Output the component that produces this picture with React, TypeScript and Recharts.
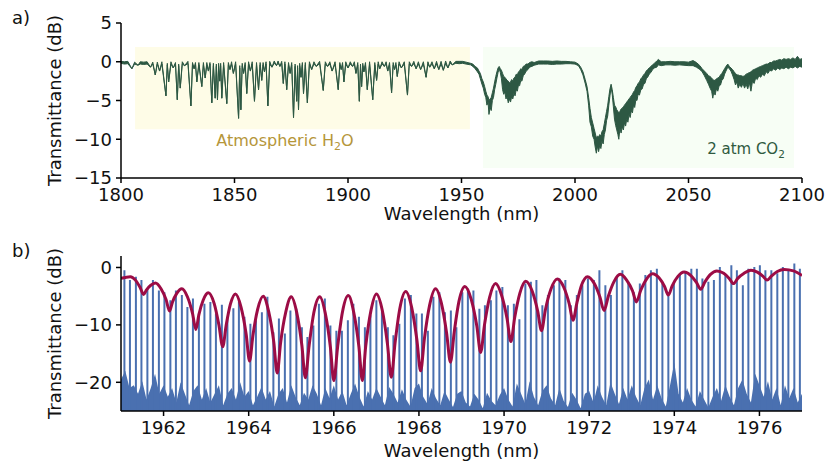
import { ComposedChart, Area, Line, XAxis, YAxis, ReferenceArea } from 'recharts'

const FONT = '"DejaVu Sans", Verdana, sans-serif'

// ---- panel a: broadband transmission, [wavelength, low, high] (dB)
const traceA: [number, number, number][] = [
  [1800, -0.2, 0.05], [1801.5, -0.3, 0], [1803, -0.25, 0.05], [1804.8, -0.9, -0.9], [1806, -0.3, -0.05],
  [1807.5, -0.45, -0.45], [1808.5, -0.3, 0], [1810, -0.35, -0.05], [1811.5, -0.3, 0], [1813, -0.7, -0.7],
  [1814, -0.3, -0.05], [1815.1, -1.7, -1.7], [1816, -0.3, -0.05], [1817, -1.2, -1.2], [1818, -0.3, 0],
  [1819.8, -4.4, -4.4], [1820.4, -0.4, -0.2], [1821, -2.6, -2.6], [1822, -0.3, 0], [1823, -0.8, -0.8],
  [1824, -0.3, -0.1], [1824.8, -4.9, -4.9], [1825.4, -0.5, -0.3], [1826.1, -3.4, -3.4], [1827, -0.3, 0],
  [1828, -0.5, -0.5], [1829.5, -0.25, 0.05], [1830.8, -5.7, -5.7], [1831.5, -0.3, -0.1], [1832.2, -0.9, -0.9],
  [1832.8, -0.3, -0.1], [1833.4, -2.6, -2.6], [1834.3, -0.4, -0.1], [1835.6, -3.2, -3.2], [1836.3, -0.4, -0.1],
  [1837.1, -2.1, -2.1], [1837.8, -0.4, -0.1], [1838.5, -1.2, -1.2], [1839.2, -0.3, -0.1], [1840, -5.3, -5.3],
  [1840.7, -0.5, -0.2], [1841.5, -4.7, -4.7], [1842, -0.6, -0.3], [1842.5, -4.9, -4.9], [1843, -0.5, -0.2],
  [1843.5, -2.5, -2.5], [1843.9, -0.5, -0.2], [1844.4, -4.7, -4.7], [1845.2, -0.4, -0.1], [1846.6, -5.4, -5.4],
  [1847.3, -0.4, -0.1], [1848, -1.0, -1.0], [1848.7, -0.3, 0], [1849.5, -1.5, -1.5], [1850.5, -0.3, 0],
  [1851.8, -7.3, -7.3], [1852.3, -0.8, -0.5], [1852.8, -6.2, -6.2], [1853.4, -0.5, -0.2], [1854, -1.5, -1.5],
  [1854.7, -0.4, -0.1], [1855.4, -4.1, -4.1], [1856.2, -0.3, 0], [1857, -1.2, -1.2], [1857.8, -0.3, 0],
  [1858.8, -5.1, -5.1], [1859.7, -0.4, -0.1], [1860.6, -3.6, -3.6], [1861.3, -0.4, -0.1], [1862, -2.4, -2.4],
  [1862.6, -0.4, -0.1], [1863.2, -1.3, -1.3], [1863.9, -0.3, 0], [1864.7, -5.7, -5.7], [1865.5, -0.3, 0.05],
  [1866.5, -0.7, -0.7], [1867.5, -0.2, 0.1], [1868.5, -0.5, -0.5], [1869.2, -0.15, 0.1], [1870, -0.6, -0.6],
  [1870.8, -0.2, 0.05], [1871.5, -2.8, -2.8], [1872.2, -0.3, 0], [1873, -3.6, -3.6], [1873.8, -0.4, -0.1],
  [1874.5, -1.5, -1.5], [1875.2, -0.4, -0.1], [1876, -7.2, -7.2], [1876.7, -0.6, -0.3], [1877.4, -5.1, -5.1],
  [1877.8, -0.8, -0.5], [1878.2, -6.2, -6.2], [1878.7, -0.5, -0.2], [1879.3, -2.0, -2.0], [1879.9, -0.4, -0.1],
  [1880.4, -4.1, -4.1], [1881.2, -0.4, -0.1], [1882.1, -5.3, -5.3], [1883, -0.3, 0], [1884, -1.0, -1.0],
  [1885, -0.3, 0], [1886, -0.6, -0.6], [1887.5, -0.25, 0.05], [1889.1, -3.7, -3.7], [1890, -0.3, 0],
  [1891, -0.6, -0.6], [1892, -0.3, 0], [1893, -1.2, -1.2], [1894.3, -0.3, 0], [1895.7, -3.6, -3.6],
  [1896.4, -0.4, -0.1], [1897, -1.0, -1.0], [1897.6, -0.4, -0.1], [1898.2, -2.6, -2.6], [1899, -0.3, 0],
  [1900, -0.8, -0.8], [1901, -0.3, 0], [1902, -0.6, -0.6], [1902.8, -0.3, 0], [1903.5, -1.5, -1.5],
  [1904.3, -0.4, -0.1], [1905, -5.1, -5.1], [1905.5, -0.6, -0.3], [1906, -3.2, -3.2], [1906.5, -0.5, -0.2],
  [1907, -1.3, -1.3], [1907.7, -0.4, -0.1], [1908.5, -3.6, -3.6], [1909.5, -0.3, 0], [1910.9, -4.9, -4.9],
  [1911.8, -0.4, -0.1], [1912.6, -2.4, -2.4], [1913.3, -0.3, 0], [1914, -0.9, -0.9], [1915, -0.3, 0],
  [1916, -0.6, -0.6], [1916.8, -0.3, 0], [1917.5, -1.2, -1.2], [1918.3, -0.4, -0.1], [1919.2, -4.0, -4.0],
  [1919.9, -0.4, -0.1], [1920.5, -1.0, -1.0], [1921.1, -0.4, -0.1], [1921.7, -1.9, -1.9], [1922.5, -0.3, 0],
  [1923.5, -0.8, -0.8], [1924.8, -0.3, 0], [1926.2, -4.3, -4.3], [1927, -0.3, 0], [1928, -0.6, -0.6],
  [1929, -0.25, 0.05], [1930, -0.9, -0.9], [1931, -0.3, 0], [1932, -1.0, -1.0], [1933.2, -0.3, 0],
  [1934.4, -2.0, -2.0], [1935.2, -0.3, 0], [1936, -0.7, -0.7], [1937, -0.3, 0], [1938, -0.9, -0.9],
  [1939, -0.3, 0.05], [1940, -1.0, -1.0], [1941, -0.3, 0.05], [1942, -1.1, -1.1], [1943, -0.25, 0.1],
  [1944, -0.8, -0.8], [1945, -0.2, 0.1], [1946, -0.4, -0.4], [1947.5, -0.2, 0.05], [1949, -0.25, 0.05],
  [1950.5, -0.2, 0.05], [1952, -0.3, -0.05],
  // CO2 band around 1960-1980
  [1954, -0.4, -0.2], [1955, -0.6, -0.3], [1956, -0.9, -0.6], [1957, -1.3, -0.8], [1957.7, -1.6, -1.2],
  [1958.3, -2.2, -1.5], [1959, -2.9, -2.2], [1959.6, -3.4, -2.6], [1960.2, -4.2, -3.2], [1960.7, -4.6, -3.8],
  [1961.2, -5.6, -4.3], [1961.7, -5.2, -4.5], [1962.1, -6.8, -5.0], [1962.6, -5.9, -4.8], [1963.1, -6.3, -4.6],
  [1963.6, -5.0, -4.0], [1964.1, -4.6, -3.4], [1964.6, -3.6, -2.6], [1965.1, -2.9, -1.9], [1965.6, -2.1, -1.3],
  [1966.1, -1.4, -0.8], [1966.6, -0.9, -0.6], [1967.1, -1.4, -0.9], [1967.6, -2.2, -1.1], [1968.1, -3.6, -1.5],
  [1968.6, -4.2, -1.9], [1969.1, -3.9, -2.0], [1969.6, -4.8, -2.2], [1970.1, -4.5, -2.4], [1970.6, -5.3, -2.5],
  [1971.1, -4.8, -2.7], [1971.6, -5.2, -2.6], [1972.1, -4.5, -2.3], [1972.6, -4.8, -2.5], [1973.1, -4.1, -2.1],
  [1973.6, -4.4, -2.0], [1974.1, -3.6, -1.6], [1974.6, -3.8, -1.7], [1975.1, -3.0, -1.3], [1975.6, -3.1, -1.2],
  [1976.1, -2.4, -0.9], [1976.6, -2.5, -1.0], [1977.2, -1.8, -0.6], [1977.8, -1.6, -0.5], [1978.5, -1.2, -0.3],
  [1979.3, -1.0, -0.3], [1980, -0.7, -0.1], [1981, -0.6, 0], [1982, -0.45, -0.1], [1984, -0.3, 0.1],
  [1986, -0.3, 0.1], [1988, -0.3, 0.1], [1990, -0.35, 0.05], [1992, -0.3, 0.1], [1994, -0.3, 0.05],
  [1996, -0.25, 0.05], [1998, -0.25, 0],
  // CO2 band around 2010
  [2000, -0.3, -0.05], [2001.5, -0.5, -0.3], [2002.5, -1.0, -0.7], [2003.5, -1.7, -1.3], [2004.5, -2.8, -2.3],
  [2005.3, -3.8, -3.2], [2006, -5.6, -4.6], [2006.6, -7.8, -6.0], [2007.2, -8.4, -7.2], [2007.8, -9.6, -7.9],
  [2008.4, -10.0, -8.6], [2008.9, -11.0, -9.2], [2009.4, -11.8, -9.8], [2009.9, -10.9, -9.6], [2010.4, -11.6, -9.7],
  [2010.9, -10.8, -9.4], [2011.4, -11.2, -9.6], [2011.9, -10.2, -9.0], [2012.4, -10.6, -8.8], [2012.9, -9.4, -8.0],
  [2013.4, -8.8, -7.2], [2013.9, -7.6, -6.4], [2014.4, -7.0, -5.6], [2014.9, -5.6, -4.5], [2015.4, -4.4, -3.5],
  [2015.9, -3.3, -2.9], [2016.4, -4.2, -3.6], [2016.9, -5.8, -4.6], [2017.4, -7.4, -5.6], [2017.9, -8.2, -5.8],
  [2018.4, -8.8, -6.2], [2018.9, -9.4, -6.4], [2019.3, -10.0, -6.6], [2019.8, -8.6, -6.4], [2020.3, -9.2, -6.1],
  [2020.8, -8.4, -6.0], [2021.3, -8.8, -5.8], [2021.8, -7.9, -5.6], [2022.3, -8.3, -5.4], [2022.8, -7.4, -5.2],
  [2023.3, -7.8, -5.0], [2023.8, -6.8, -4.8], [2024.3, -7.2, -4.6], [2024.8, -6.3, -4.4], [2025.3, -6.6, -4.2],
  [2025.8, -5.6, -3.9], [2026.3, -5.9, -3.7], [2026.8, -4.9, -3.3], [2027.3, -5.0, -3.1], [2027.8, -4.2, -2.8],
  [2028.4, -4.3, -2.6], [2029, -3.6, -2.2], [2029.6, -3.5, -2.0], [2030.2, -2.9, -1.7], [2030.8, -2.8, -1.5],
  [2031.4, -2.2, -1.2], [2032, -2.0, -1.0], [2032.7, -1.6, -0.8], [2033.4, -1.4, -0.6], [2034.2, -1.0, -0.4],
  [2035, -0.8, -0.2], [2036, -0.7, 0.1], [2036.7, -0.4, 0.3], [2038, -0.5, 0], [2040, -0.4, 0],
  [2042, -0.4, 0.05], [2044, -0.45, 0], [2046, -0.4, 0], [2048, -0.45, 0], [2050, -0.5, -0.05],
  // CO2 band around 2060-2100
  [2052, -0.5, 0.15], [2053.5, -0.7, -0.1], [2055, -1.0, -0.5], [2056, -1.3, -0.9], [2057, -1.8, -1.2],
  [2058, -2.4, -1.5], [2058.8, -2.9, -1.8], [2059.5, -3.4, -1.9], [2060.2, -3.8, -2.1], [2060.7, -4.7, -2.3],
  [2061.2, -3.8, -2.4], [2061.7, -4.3, -2.4], [2062.3, -3.5, -2.2], [2062.9, -3.8, -2.1], [2063.5, -3.1, -2.0],
  [2064.1, -3.0, -1.7], [2064.7, -2.4, -1.5], [2065.3, -2.2, -1.2], [2065.9, -1.6, -0.9], [2066.5, -1.2, -0.6],
  [2067.3, -0.7, -0.3], [2068, -0.9, -0.6], [2068.7, -1.2, -0.8], [2069.4, -1.7, -1.0], [2070.1, -2.3, -1.3],
  [2070.7, -3.0, -1.5], [2071.3, -2.6, -1.7], [2071.9, -3.4, -1.7], [2072.6, -2.9, -1.8], [2073.3, -3.3, -1.8],
  [2074, -2.8, -1.9], [2074.7, -3.4, -1.8], [2075.4, -2.9, -1.6], [2076.1, -3.5, -1.5], [2076.8, -2.7, -1.4],
  [2077.5, -3.8, -1.3], [2078.2, -2.5, -1.1], [2078.9, -2.8, -1.0], [2079.6, -2.1, -0.9], [2080.3, -2.3, -0.8],
  [2081, -1.8, -0.7], [2081.8, -2.0, -0.6], [2082.6, -1.6, -0.5], [2083.4, -1.8, -0.4], [2084.2, -1.3, -0.3],
  [2085, -1.5, -0.3], [2085.8, -1.1, -0.1], [2086.6, -1.2, -0.1], [2087.5, -0.9, 0.1], [2088.4, -1.1, 0.1],
  [2089.3, -0.8, 0.2], [2090.2, -1.0, 0.3], [2091.1, -0.8, 0.2], [2092, -0.9, 0.4], [2093, -0.7, 0.3],
  [2094, -0.9, 0.4], [2095, -0.7, 0.3], [2096, -0.8, 0.5], [2097, -0.6, 0.3], [2098, -0.8, 0.7],
  [2099, -0.6, 0.3], [2100, -0.7, 0.4],
]

// shaded regions: [x1, x2, y1, y2]
const h2oRegion = [1806.2, 1953.7, -8.7, 1.9]
const co2Region = [1959.5, 2096.5, -13.7, 1.9]

const ticksXA = [1800, 1850, 1900, 1950, 2000, 2050, 2100]
const ticksYA = [-15, -10, -5, 0, 5]

// ---- panel b: comb teeth [wavelength, peak dB]
const combTeeth: [number, number][] = [
  [1961.08, -0.5], [1961.21, -2.2], [1961.35, -1.6], [1961.48, -2.2], [1961.62, -3.7], [1961.75, -2.2], [1961.89, -4.0],
  [1962.02, -4.3], [1962.16, -5.7], [1962.29, -4.0], [1962.43, -4.8], [1962.56, -6.9], [1962.69, -5.4], [1962.83, -8.0],
  [1962.96, -6.3], [1963.10, -6.0], [1963.23, -8.0], [1963.37, -6.5], [1963.50, -8.6], [1963.64, -7.1], [1963.77, -6.0],
  [1963.90, -8.6], [1964.04, -9.8], [1964.17, -9.2], [1964.31, -7.8], [1964.44, -5.1], [1964.58, -11.3], [1964.71, -8.9],
  [1964.85, -11.5], [1964.98, -7.5], [1965.12, -7.2], [1965.25, -10.4], [1965.38, -12.1], [1965.52, -10.1], [1965.65, -6.3],
  [1965.79, -5.4], [1965.92, -10.1], [1966.06, -11.0], [1966.19, -11.0], [1966.33, -9.2], [1966.46, -6.3], [1966.59, -8.6],
  [1966.73, -10.4], [1966.86, -8.3], [1967.00, -5.7], [1967.13, -7.5], [1967.27, -10.4], [1967.40, -11.8], [1967.54, -9.8],
  [1967.67, -5.4], [1967.81, -4.8], [1967.94, -8.0], [1968.07, -8.0], [1968.21, -11.0], [1968.34, -5.1], [1968.48, -4.3],
  [1968.61, -7.8], [1968.75, -7.5], [1968.88, -10.4], [1969.02, -4.3], [1969.15, -3.7], [1969.28, -4.0], [1969.42, -7.2],
  [1969.55, -6.6], [1969.69, -5.7], [1969.82, -4.0], [1969.96, -3.4], [1970.09, -6.6], [1970.23, -6.3], [1970.36, -9.0],
  [1970.50, -2.8], [1970.63, -2.5], [1970.76, -2.2], [1970.90, -6.6], [1971.03, -4.8], [1971.17, -3.1], [1971.30, -1.9],
  [1971.44, -2.2], [1971.57, -6.6], [1971.71, -4.8], [1971.84, -3.1], [1971.97, -1.9], [1972.11, -2.2], [1972.24, -0.5],
  [1972.38, -3.1], [1972.51, -4.8], [1972.65, -1.6], [1972.78, -0.5], [1972.92, -2.5], [1973.05, -4.3], [1973.19, -2.8],
  [1973.32, -1.3], [1973.45, -0.5], [1973.59, -0.2], [1973.72, -2.8], [1973.86, -4.3], [1973.99, -2.5], [1974.13, -1.3],
  [1974.26, -0.8], [1974.40, -0.2], [1974.53, -0.2], [1974.66, -1.9], [1974.80, -2.5], [1974.93, -2.2], [1975.07, 0.1],
  [1975.20, -1.3], [1975.34, 0.4], [1975.47, -0.5], [1975.61, -3.1], [1975.74, -0.2], [1975.88, 0.1], [1976.01, 0.4],
  [1976.14, -0.5], [1976.28, -0.5], [1976.42, -1.0], [1976.55, 0.1], [1976.68, -0.5], [1976.82, 0.7], [1976.95, -0.2],
]

// noise floor between teeth
const noiseFloor: [number, number][] = [
  [1961.0, -19.5], [1961.1, -18], [1961.2, -21], [1961.3, -20.5], [1961.4, -22], [1961.5, -19.8], [1961.6, -23], [1961.7, -21], [1961.8, -18.5], [1961.9, -22],
  [1962.0, -20.5], [1962.1, -22.5], [1962.2, -21], [1962.3, -23.5], [1962.4, -20], [1962.5, -22], [1962.6, -24], [1962.7, -21.5], [1962.8, -20.5], [1962.9, -23],
  [1963.0, -21], [1963.1, -23.5], [1963.2, -22], [1963.3, -20.5], [1963.4, -24], [1963.5, -22], [1963.6, -21], [1963.7, -23], [1963.8, -20], [1963.9, -22.5],
  [1964.0, -21.5], [1964.1, -24], [1964.2, -22.5], [1964.3, -20.8], [1964.4, -23], [1964.5, -21.5], [1964.6, -24.2], [1964.7, -22], [1964.8, -21], [1964.9, -23.5],
  [1965.0, -20.5], [1965.1, -22.5], [1965.2, -24], [1965.3, -21.8], [1965.4, -23], [1965.5, -20.5], [1965.6, -22], [1965.7, -24], [1965.8, -21], [1965.9, -22.8],
  [1966.0, -20.5], [1966.1, -23], [1966.2, -21.5], [1966.3, -24], [1966.4, -22], [1966.5, -20.2], [1966.6, -22.5], [1966.7, -24.2], [1966.8, -21.5], [1966.9, -23],
  [1967.0, -21], [1967.1, -22.5], [1967.2, -24], [1967.3, -20.8], [1967.4, -22], [1967.5, -23.5], [1967.6, -21.2], [1967.7, -23], [1967.8, -24.2], [1967.9, -21],
  [1968.0, -20.2], [1968.1, -22.5], [1968.2, -23.8], [1968.3, -21], [1968.4, -22.8], [1968.5, -24], [1968.6, -21.5], [1968.7, -23], [1968.8, -24.3], [1968.9, -22],
  [1969.0, -21.5], [1969.1, -23.5], [1969.2, -24.2], [1969.3, -22], [1969.4, -23], [1969.5, -24.5], [1969.6, -21.8], [1969.7, -23.2], [1969.8, -24], [1969.9, -22.2],
  [1970.0, -21], [1970.1, -23], [1970.2, -24.2], [1970.3, -20.2], [1970.4, -22], [1970.5, -23.8], [1970.6, -19.8], [1970.7, -22.5], [1970.8, -24], [1970.9, -21.5],
  [1971.0, -20.5], [1971.1, -22.8], [1971.2, -24], [1971.3, -21], [1971.4, -23.2], [1971.5, -24.3], [1971.6, -21.8], [1971.7, -23], [1971.8, -24.5], [1971.9, -22],
  [1972.0, -21.5], [1972.1, -23.5], [1972.2, -20.5], [1972.3, -22.5], [1972.4, -24], [1972.5, -20], [1972.6, -22], [1972.7, -23.8], [1972.8, -21], [1972.9, -23],
  [1973.0, -20.5], [1973.1, -22.5], [1973.2, -24], [1973.3, -21], [1973.4, -19.5], [1973.5, -23], [1973.6, -20.5], [1973.7, -22.8], [1973.8, -24.2], [1973.9, -20.5],
  [1974.0, -16.5], [1974.1, -22], [1974.2, -23.5], [1974.3, -21], [1974.4, -23], [1974.5, -24.2], [1974.6, -21.5], [1974.7, -23], [1974.8, -24.4], [1974.9, -22.5],
  [1975.0, -21], [1975.1, -23.2], [1975.2, -20.5], [1975.3, -22.5], [1975.4, -24], [1975.5, -21], [1975.6, -19.5], [1975.7, -22], [1975.8, -23.5], [1975.9, -18.5],
  [1976.0, -20.5], [1976.1, -22.5], [1976.2, -19.8], [1976.3, -23], [1976.4, -21], [1976.5, -24], [1976.6, -20.5], [1976.7, -22.8], [1976.8, -21], [1976.9, -23.5],
  [1977.0, -22],
]

// fitted transmission (dB)
const fitCurve: [number, number][] = [
  [1961.00, -1.9], [1961.22, -1.6], [1961.34, -2.2], [1961.45, -3.5], [1961.53, -4.7], [1961.60, -3.9], [1961.70, -3.1], [1961.81, -2.7],
  [1961.94, -3.7], [1962.06, -5.6], [1962.14, -7.6], [1962.21, -6.0], [1962.31, -4.5], [1962.43, -3.7],
  [1962.56, -5.1], [1962.68, -8.0], [1962.76, -10.8], [1962.83, -8.2], [1962.93, -5.7], [1963.05, -4.4],
  [1963.19, -6.3], [1963.30, -10.0], [1963.39, -13.8], [1963.47, -10.1], [1963.57, -6.4], [1963.69, -4.6],
  [1963.82, -6.9], [1963.94, -11.6], [1964.02, -16.3], [1964.10, -11.8], [1964.21, -7.3], [1964.34, -5.0],
  [1964.47, -7.7], [1964.59, -13.0], [1964.67, -18.4], [1964.75, -13.1], [1964.87, -7.8], [1965.00, -5.1],
  [1965.13, -7.9], [1965.25, -13.6], [1965.33, -19.2], [1965.42, -13.6], [1965.53, -7.9], [1965.67, -5.1],
  [1965.80, -8.0], [1965.92, -13.9], [1966.00, -19.7], [1966.09, -13.8], [1966.20, -7.9], [1966.34, -4.9],
  [1966.47, -7.9], [1966.59, -13.8], [1966.67, -19.7], [1966.75, -13.7], [1966.87, -7.6], [1967.00, -4.6],
  [1967.14, -7.5], [1967.26, -13.3], [1967.35, -19.1], [1967.44, -13.1], [1967.55, -7.2], [1967.69, -4.2],
  [1967.83, -7.0], [1967.95, -12.5], [1968.04, -18.0], [1968.13, -12.3], [1968.25, -6.6], [1968.39, -3.7],
  [1968.53, -6.3], [1968.65, -11.4], [1968.74, -16.5], [1968.83, -11.2], [1968.94, -5.9], [1969.08, -3.3],
  [1969.23, -5.6], [1969.36, -10.2], [1969.45, -14.8], [1969.54, -10.0], [1969.66, -5.2], [1969.80, -2.8],
  [1969.94, -4.8], [1970.07, -8.9], [1970.16, -12.9], [1970.25, -8.7], [1970.37, -4.5], [1970.51, -2.4],
  [1970.66, -4.1], [1970.79, -7.6], [1970.88, -11.0], [1970.97, -7.4], [1971.10, -3.8], [1971.25, -2.0],
  [1971.40, -3.4], [1971.53, -6.3], [1971.62, -9.2], [1971.71, -6.2], [1971.82, -3.1], [1971.96, -1.6],
  [1972.12, -2.8], [1972.25, -5.1], [1972.35, -7.5], [1972.45, -5.0], [1972.58, -2.5], [1972.73, -1.2],
  [1972.88, -2.2], [1973.02, -4.1], [1973.11, -6.0], [1973.21, -4.0], [1973.34, -2.1], [1973.49, -1.1],
  [1973.64, -1.8], [1973.77, -3.3], [1973.86, -4.8], [1973.95, -3.2], [1974.08, -1.6], [1974.23, -0.8],
  [1974.39, -1.4], [1974.52, -2.6], [1974.62, -3.8], [1974.72, -2.5], [1974.85, -1.2], [1975.00, -0.6],
  [1975.16, -1.0], [1975.29, -1.9], [1975.39, -2.8], [1975.49, -1.9], [1975.64, -1.0], [1975.80, -0.5],
  [1975.95, -0.8], [1976.08, -1.5], [1976.18, -2.2], [1976.28, -1.5], [1976.42, -0.7], [1976.58, -0.35],
  [1976.80, -0.6], [1977.00, -1.4],
]

const ticksXB = [1962, 1964, 1966, 1968, 1970, 1972, 1974, 1976]
const ticksYB = [-20, -10, 0]
const floorDb = -25

const fmt = (v: number) => (v < 0 ? `\u2212${Math.abs(v)}` : String(v))
const tickStyle = { fontFamily: FONT, fontSize: 18, fill: '#111' }
const axisStroke = { stroke: '#000', strokeWidth: 1.5 }
const labelStyle = { fontFamily: FONT, fontSize: 18, fill: '#111' }

function PanelA() {
  const data = traceA.map(([wl, lo, hi]) => ({ wl, range: [lo, hi] }))
  return (
    <ComposedChart width={828} height={230} data={data} margin={{ top: 23, right: 26, bottom: 12, left: 0 }}>
      <ReferenceArea x1={h2oRegion[0]} x2={h2oRegion[1]} y1={h2oRegion[2]} y2={h2oRegion[3]} fill="#fefce7" fillOpacity={1} stroke="none" />
      <ReferenceArea x1={co2Region[0]} x2={co2Region[1]} y1={co2Region[2]} y2={co2Region[3]} fill="#f7fef5" fillOpacity={1} stroke="none" />
      <XAxis
        type="number"
        dataKey="wl"
        domain={[1800, 2100]}
        ticks={ticksXA}
        tick={tickStyle}
        tickSize={5}
        tickMargin={5}
        axisLine={axisStroke}
        tickLine={axisStroke}
        height={40}
        allowDataOverflow
        label={{ value: 'Wavelength (nm)', position: 'center', dy: 16, style: labelStyle }}
      />
      <XAxis xAxisId="top" orientation="top" type="number" domain={[1800, 2100]} tick={false} tickLine={false} height={0} axisLine={axisStroke} />
      <YAxis
        type="number"
        domain={[-15, 5]}
        ticks={ticksYA}
        tickFormatter={fmt}
        tick={tickStyle}
        tickSize={5}
        tickMargin={4}
        axisLine={axisStroke}
        tickLine={axisStroke}
        width={121}
        label={{ value: 'Transmittance (dB)', angle: -90, position: 'center', dx: -5.5, style: labelStyle }}
      />
      <YAxis yAxisId="right" orientation="right" type="number" domain={[-15, 5]} tick={false} tickLine={false} width={0} axisLine={axisStroke} />
      <Area
        type="linear"
        dataKey="range"
        stroke="#2d5843"
        strokeWidth={1}
        fill="#2d5843"
        fillOpacity={1}
        dot={false}
        activeDot={false}
        isAnimationActive={false}
      />
    </ComposedChart>
  )
}

function PanelB() {
  const teeth = combTeeth.flatMap(([wl, top]) => [
    { wl, v: floorDb },
    { wl, v: top },
    { wl, v: floorDb },
  ])
  const floor = noiseFloor.map(([wl, v]) => ({ wl, v }))
  const fit = fitCurve.map(([wl, v]) => ({ wl, v }))
  return (
    <ComposedChart width={828} height={236} margin={{ top: 26, right: 26, bottom: 15, left: 0 }}>
      <XAxis
        type="number"
        dataKey="wl"
        domain={[1961, 1977]}
        ticks={ticksXB}
        tick={tickStyle}
        tickSize={5}
        tickMargin={5}
        axisLine={axisStroke}
        tickLine={axisStroke}
        height={40}
        allowDataOverflow
        label={{ value: 'Wavelength (nm)', position: 'center', dy: 20, style: labelStyle }}
      />
      <XAxis xAxisId="top" orientation="top" type="number" domain={[1961, 1977]} tick={false} tickLine={false} height={0} axisLine={axisStroke} />
      <YAxis
        type="number"
        domain={[-25, 2]}
        ticks={ticksYB}
        tickFormatter={fmt}
        tick={tickStyle}
        tickSize={5}
        tickMargin={4}
        axisLine={axisStroke}
        tickLine={axisStroke}
        width={121}
        allowDataOverflow
        label={{ value: 'Transmittance (dB)', angle: -90, position: 'center', dx: -5.5, style: labelStyle }}
      />
      <YAxis yAxisId="right" orientation="right" type="number" domain={[-25, 2]} tick={false} tickLine={false} width={0} axisLine={axisStroke} />
      <Area
        data={floor}
        type="linear"
        dataKey="v"
        baseValue={floorDb}
        stroke="none"
        fill="#4a70b0"
        fillOpacity={1}
        dot={false}
        activeDot={false}
        isAnimationActive={false}
      />
      <Line
        data={teeth}
        type="linear"
        dataKey="v"
        stroke="#4a70b0"
        strokeWidth={2}
        strokeLinejoin="bevel"
        dot={false}
        activeDot={false}
        isAnimationActive={false}
      />
      <Line
        data={fit}
        type="monotone"
        dataKey="v"
        stroke="#9c0c45"
        strokeWidth={3}
        dot={false}
        activeDot={false}
        isAnimationActive={false}
      />
    </ComposedChart>
  )
}

export default function App() {
  return (
    <div style={{ position: 'absolute', left: 0, top: 0, width: 828, height: 466, background: '#fff', fontFamily: FONT }}>
      <div style={{ position: 'absolute', left: 0, top: 0 }}>
        <PanelA />
      </div>
      <div style={{ position: 'absolute', left: 0, top: 230 }}>
        <PanelB />
      </div>
      <svg width={828} height={466} style={{ position: 'absolute', left: 0, top: 0, pointerEvents: 'none' }}>
        <text x={12} y={23.5} fontFamily={FONT} fontSize={18} fill="#111">a)</text>
        <text x={12} y={256.5} fontFamily={FONT} fontSize={18} fill="#111">b)</text>
        <text x={285} y={146} textAnchor="middle" fontFamily={FONT} fontSize={16} fill="#b5963a">
          Atmospheric H<tspan dy={4} fontSize={11}>2</tspan><tspan dy={-4}>O</tspan>
        </text>
        <text x={746} y={154} textAnchor="middle" fontFamily={FONT} fontSize={15} fill="#2f5a40">
          2 atm CO<tspan dy={4} fontSize={10.5}>2</tspan>
        </text>
      </svg>
    </div>
  )
}
